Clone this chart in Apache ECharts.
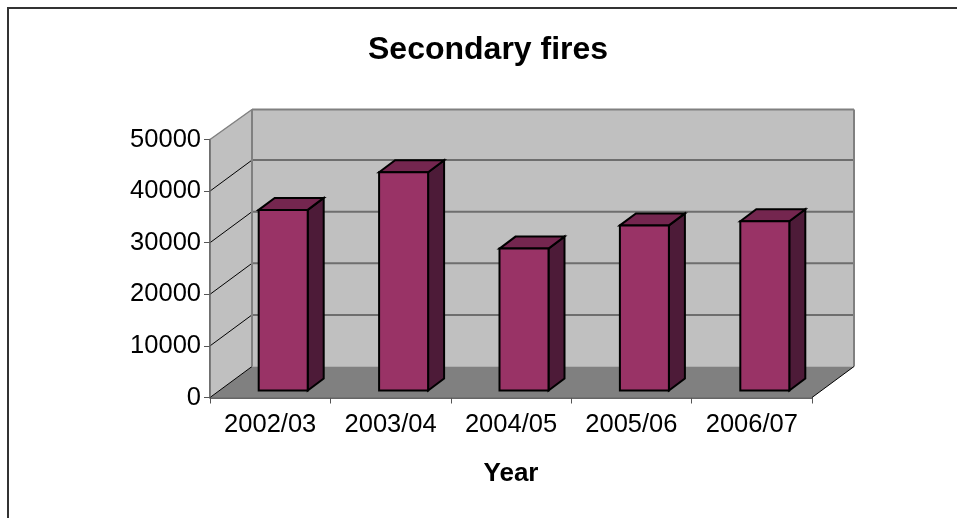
<!DOCTYPE html>
<html>
<head>
<meta charset="utf-8">
<style>html,body{margin:0;padding:0;background:#fff}#chart{width:957px;height:518px}</style>
<script src="https://cdn.jsdelivr.net/npm/echarts@6/dist/echarts.min.js"></script>
</head>
<body>
<div id="chart"></div>
<script>
const categories = ['2002/03', '2003/04', '2004/05', '2005/06', '2006/07'];
const fires = [35000, 42300, 27500, 32000, 32800];
const yTicks = [0, 10000, 20000, 30000, 40000, 50000];

// Oblique projection offsets: depth of the box, its gridlines and each column
const boxDepth = [42, -30];
const gridDepth = [42, -31];
const barDepth = [16, -12];
const barShift = [13, -7];
const barWidth = 49;

const chart = echarts.init(document.getElementById('chart'));

const poly = (points, fill, stroke, lineWidth) => ({
  type: 'polygon',
  shape: { points },
  style: { fill, stroke, lineWidth }
});
const seg = (a, b, stroke, lineWidth) => ({
  type: 'line',
  shape: { x1: a[0], y1: a[1], x2: b[0], y2: b[1] },
  style: { stroke, lineWidth }
});
const off = (p, d) => [p[0] + d[0], p[1] + d[1]];

// Walls, floor and gridlines of the box
function renderBox(params, api) {
  const sys = params.coordSys;
  const left = sys.x, right = sys.x + sys.width;
  const y0 = api.coord([0, 0])[1];
  const top = api.coord([0, 50000])[1];
  const fl = [left, y0], fr = [right, y0], tl = [left, top];
  const tr = [right, top];
  const kids = [
    poly([tl, off(tl, boxDepth), off(fl, gridDepth), fl], '#c0c0c0', 'none', 0),
    poly([off(tl, boxDepth), off(tr, boxDepth), off(fr, gridDepth), off(fl, gridDepth)], '#c0c0c0', 'none', 0),
    poly([fl, off(fl, gridDepth), off(fr, gridDepth), fr], '#808080', 'none', 0)
  ];
  yTicks.forEach(v => {
    const y = api.coord([0, v])[1];
    const p = [left, y];
    if (v > 0 && v < 50000) {
      kids.push(seg(off(p, gridDepth), [right + gridDepth[0], y + gridDepth[1]], '#6e6e6e', 2));
    }
    if (v < 50000) kids.push(seg(p, off(p, gridDepth), '#000', 1));
  });
  kids.push(seg(tl, off(tl, boxDepth), '#808080', 1.5));
  kids.push(seg(off(tl, boxDepth), off(tr, boxDepth), '#808080', 2));
  kids.push(seg(off(tl, boxDepth), off(fl, gridDepth), '#808080', 2));
  kids.push(seg(off(tr, boxDepth), off(fr, gridDepth), '#808080', 2));
  kids.push(seg(tl, fl, '#666', 1.5));
  kids.push(seg(fr, off(fr, gridDepth), '#000', 1));
  return { type: 'group', children: kids };
}

// One oblique column: front, top and side faces
function renderColumn(params, api) {
  const cx = api.coord([api.value(0), 0])[0];
  const y0 = api.coord([0, 0])[1];
  const yv = api.coord([0, api.value(1)])[1];
  const x1 = cx - barWidth / 2 + barShift[0], x2 = x1 + barWidth;
  const bl = [x1, y0 + barShift[1]], br = [x2, y0 + barShift[1]];
  const tl = [x1, yv + barShift[1]], tr = [x2, yv + barShift[1]];
  const stroke = '#000', width = 2;
  return {
    type: 'group',
    children: [
      poly([tr, off(tr, barDepth), off(br, barDepth), br], '#4d1b38', stroke, width),
      poly([tl, off(tl, barDepth), off(tr, barDepth), tr], '#74264f', stroke, width),
      poly([tl, tr, br, bl], '#993366', stroke, width)
    ]
  };
}

chart.setOption({
  animation: false,
  backgroundColor: '#fff',
  title: {
    text: 'Secondary fires',
    left: 363, top: 29,
    textStyle: { fontFamily: 'Liberation Sans', fontWeight: 'bold', fontSize: 32, color: '#000' }
  },
  grid: { left: 210, right: 145, top: 139.5, bottom: 120.5 },
  xAxis: {
    type: 'category',
    data: categories,
    name: 'Year',
    nameLocation: 'middle',
    nameGap: 63,
    nameTextStyle: { fontFamily: 'Liberation Sans', fontWeight: 'bold', fontSize: 26, color: '#000' },
    axisLine: { lineStyle: { color: '#333', width: 1.5 } },
    axisTick: { show: true, length: 6, alignWithLabel: false, lineStyle: { color: '#555' } },
    axisLabel: { fontFamily: 'Liberation Sans', fontSize: 25.5, color: '#000', margin: 14 },
    splitLine: { show: false }
  },
  yAxis: {
    type: 'value', min: 0, max: 50000, interval: 10000,
    axisLine: { show: true, lineStyle: { color: '#666', width: 1.5 } },
    axisTick: { show: true, length: 6, lineStyle: { color: '#555' } },
    axisLabel: {
      fontFamily: 'Liberation Sans', fontSize: 25.5, color: '#000', margin: 9,
      formatter: v => String(v)
    },
    splitLine: { show: false }
  },
  graphic: [{
    type: 'rect',
    shape: { x: 8, y: 8, width: 1100, height: 700 },
    style: { fill: 'none', stroke: '#333', lineWidth: 2 },
    silent: true
  }],
  series: [
    { type: 'custom', renderItem: renderBox, data: [[0, 0]], z: 1, silent: true, clip: false },
    { type: 'custom', renderItem: renderColumn, data: categories.map((c, i) => [i, fires[i]]), z: 3, clip: false }
  ]
});
</script>
</body>
</html>
